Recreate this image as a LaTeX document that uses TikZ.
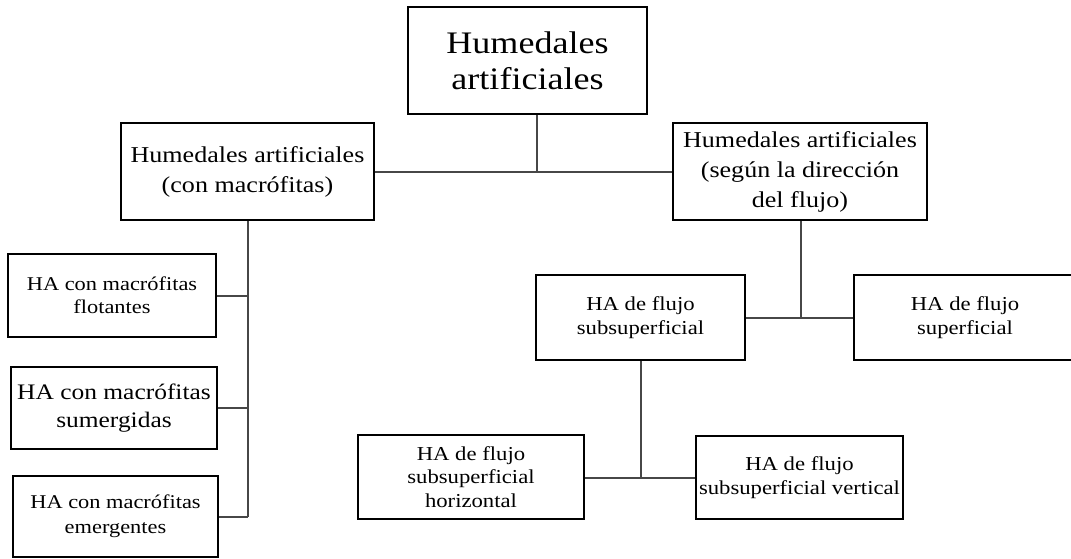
\documentclass[tikz,border=0pt]{standalone}
\usepackage{fontspec}
\setmainfont[FakeStretch=1.15]{Liberation Serif}
\begin{document}
\begin{tikzpicture}[x=0.75pt,y=-0.75pt,
  box/.style={draw=black,line width=1.2pt,fill=white,inner sep=0pt,align=center,anchor=center},
  conn/.style={draw=black!72,line width=0.9pt}]
\useasboundingbox (0,0) rectangle (1071,558);
\clip (0,0) rectangle (1071,558);
% boxes
\node[box,minimum width=239*0.75pt,minimum height=107*0.75pt,font=\fontsize{23.5}{27}\selectfont] (top) at (527.5,60.5) {Humedales\\artificiales};
\node[box,minimum width=253*0.75pt,minimum height=97*0.75pt,font=\fontsize{17}{22.5}\selectfont] (L) at (247.5,171.5) {Humedales artificiales\\(con macrófitas)};
\node[box,minimum width=254*0.75pt,minimum height=97*0.75pt,font=\fontsize{17}{22.5}\selectfont] (R) at (800,171.5) {Humedales artificiales\\(según la dirección\\del flujo)};
\node[box,minimum width=208*0.75pt,minimum height=83*0.75pt,font=\fontsize{14.6}{17.3}\selectfont] (F1) at (112,295.5) {HA con macrófitas\\flotantes};
\node[box,minimum width=206*0.75pt,minimum height=82*0.75pt,font=\fontsize{16.6}{21.5}\selectfont] (F2) at (114,408) {HA con macrófitas\\sumergidas};
\node[box,minimum width=205*0.75pt,minimum height=81*0.75pt,font=\fontsize{14.6}{18.5}\selectfont] (F3) at (115.5,516.5) {HA con macrófitas\\emergentes};
\node[box,minimum width=209*0.75pt,minimum height=85*0.75pt,font=\fontsize{14.8}{18}\selectfont] (SS) at (640.5,317.5) {HA de flujo\\subsuperficial};
\node[box,minimum width=222*0.75pt,minimum height=85*0.75pt,font=\fontsize{14.8}{18}\selectfont] (SU) at (965,317.5) {HA de flujo\\superficial};
\node[box,minimum width=226*0.75pt,minimum height=84*0.75pt,font=\fontsize{14.8}{17.6}\selectfont] (HZ) at (471,477) {HA de flujo\\subsuperficial\\horizontal};
\node[box,minimum width=207*0.75pt,minimum height=83*0.75pt,font=\fontsize{14.8}{18.5}\selectfont] (VT) at (799.5,477.5) {HA de flujo\\subsuperficial vertical};
% junctions
\coordinate (j1) at (537,172);
\coordinate (j2) at (248,517);
\coordinate (j3) at (801,318);
\coordinate (j4) at (641,478);
% connectors
\draw[conn] (top.south -| j1) -- (j1);
\draw[conn] (L.east |- j1) -- (R.west |- j1);
\draw[conn] (L.south -| j2) -- (j2);
\draw[conn] (F1.east |- 0,296) -- (j2 |- 0,296);
\draw[conn] (F2.east |- 0,408) -- (j2 |- 0,408);
\draw[conn] (F3.east |- j2) -- (j2);
\draw[conn] (R.south -| j3) -- (j3);
\draw[conn] (SS.east |- j3) -- (SU.west |- j3);
\draw[conn] (SS.south -| j4) -- (j4);
\draw[conn] (HZ.east |- j4) -- (VT.west |- j4);
\end{tikzpicture}
\end{document}
